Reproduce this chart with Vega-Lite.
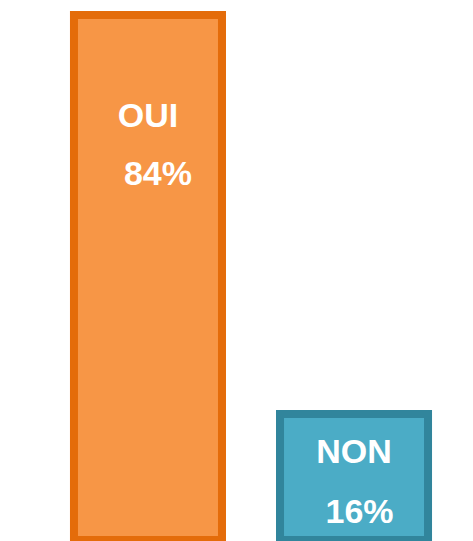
{
  "$schema": "https://vega.github.io/schema/vega-lite/v6.json",
  "width": 473,
  "height": 541,
  "padding": 0,
  "autosize": {"type": "none"},
  "background": "white",
  "config": {"view": {"stroke": null}},
  "data": {"values": [
    {"cat": "OUI", "value": 84, "label": "84%"},
    {"cat": "NON", "value": 16, "label": "16%"}
  ]},
  "encoding": {
    "x": {"field": "cat", "type": "nominal", "axis": null,
      "scale": {"domain": ["OUI", "NON"], "range": [0, 502], "paddingInner": 0.2816, "paddingOuter": 0.359}},
    "y": {"field": "value", "type": "quantitative", "axis": null,
      "scale": {"domain": [-5.47, 84], "range": [540, 15], "zero": false, "nice": false}}
  },
  "layer": [
    {
      "mark": {"type": "bar", "strokeWidth": 8, "clip": false},
      "encoding": {
        "y2": {"datum": -5.47},
        "fill": {"field": "cat", "type": "nominal", "legend": null,
          "scale": {"domain": ["OUI", "NON"], "range": ["#F79646", "#4BACC6"]}},
        "stroke": {"field": "cat", "type": "nominal", "legend": null,
          "scale": {"domain": ["OUI", "NON"], "range": ["#E46C0A", "#31859C"]}},
        "fillOpacity": {"value": 1}
      }
    },
    {
      "mark": {"type": "text", "font": "Liberation Sans", "fontWeight": "bold", "fontSize": 34, "color": "white", "baseline": "middle", "align": "center",
        "dy": {"expr": "datum.cat === 'OUI' ? 102 : 38.5"}},
      "encoding": {"text": {"field": "cat"}}
    },
    {
      "mark": {"type": "text", "font": "Liberation Sans", "fontWeight": "bold", "fontSize": 34, "color": "white", "baseline": "middle", "align": "center",
        "dy": {"expr": "datum.cat === 'OUI' ? 159.5 : 98.7"},
        "dx": {"expr": "datum.cat === 'OUI' ? 10 : 5.5"}},
      "encoding": {"text": {"field": "label"}}
    }
  ]
}
